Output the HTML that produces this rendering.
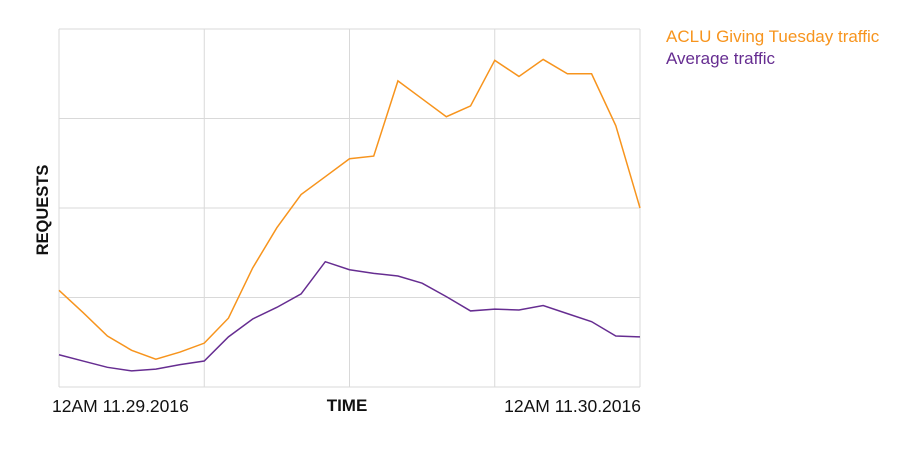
<!DOCTYPE html>
<html><head><meta charset="utf-8"><style>
html,body{margin:0;padding:0;background:#fff;}
svg{display:block;font-family:"Liberation Sans",Arial,sans-serif;}
</style></head><body>
<svg id="chart" width="900" height="458">
<g id="grid"></g>
<g id="series"></g>
<text x="52" y="412" font-size="17.5" fill="#111">12AM 11.29.2016</text>
<text x="641" y="412" font-size="17.5" fill="#111" text-anchor="end">12AM 11.30.2016</text>
<text x="347" y="411" font-size="17" font-weight="bold" fill="#111" text-anchor="middle">TIME</text>
<text transform="translate(48,210) rotate(-90)" font-size="16.5" font-weight="bold" fill="#111" text-anchor="middle">REQUESTS</text>
<text x="666" y="42" font-size="17" fill="#f7941d">ACLU Giving Tuesday traffic</text>
<text x="666" y="64" font-size="17" fill="#662d91">Average traffic</text>
</svg>
<script>
const aclu=[108,83,57,41,31,39,49,77,133,178,215,235,255,258,342,322,302,314,365,347,366,350,350,292,200];
const avg=[36,29,22,18,20,25,29,56,76,89,104,140,131,127,124,116,101,85,87,86,91,82,73,57,56];
const yMax=400;
const x0=59,x1=640,yTop=29,yBot=387;
const xs=i=>x0+(x1-x0)*i/(aclu.length-1);
const ys=v=>yBot-(yBot-yTop)*v/yMax;
const ns="http://www.w3.org/2000/svg";
const grid=document.getElementById('grid');
for(let k=0;k<=4;k++){
  const gx=x0+(x1-x0)*k/4;
  const l=document.createElementNS(ns,'line');
  l.setAttribute('x1',gx);l.setAttribute('x2',gx);l.setAttribute('y1',yTop);l.setAttribute('y2',yBot);
  l.setAttribute('stroke','#d9d9d9');l.setAttribute('stroke-width','1');
  
  
  grid.appendChild(l);
  const gy=ys(yMax*k/4);
  const h=document.createElementNS(ns,'line');
  h.setAttribute('x1',x0);h.setAttribute('x2',x1);h.setAttribute('y1',gy);h.setAttribute('y2',gy);
  h.setAttribute('stroke','#d9d9d9');h.setAttribute('stroke-width','1');
  
  
  grid.appendChild(h);
}
const ser=document.getElementById('series');
function draw(arr,color,name){
  const p=document.createElementNS(ns,'polyline');
  p.setAttribute('points',arr.map((v,i)=>xs(i)+','+ys(v)).join(' '));
  p.setAttribute('fill','none');p.setAttribute('stroke',color);p.setAttribute('stroke-width','1.5');
  
  
  ser.appendChild(p);
}
draw(avg,'#662d91','average-traffic-line');
draw(aclu,'#f7941d','aclu-traffic-line');
</script>
</body></html>
